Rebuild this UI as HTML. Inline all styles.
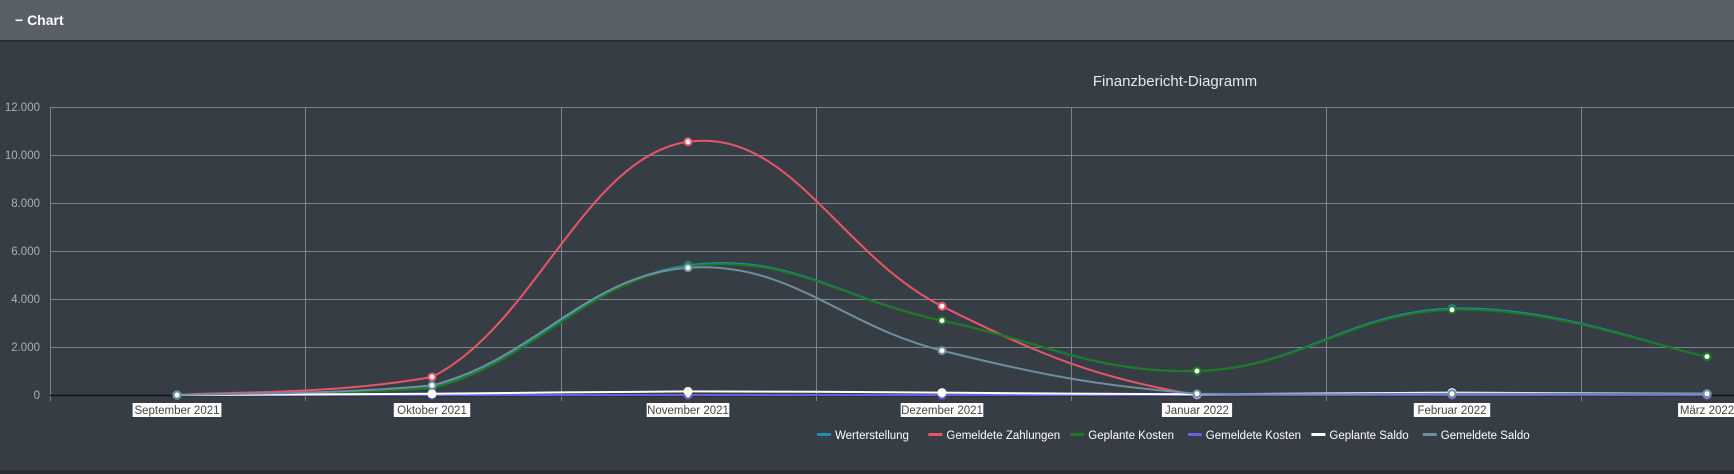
<!DOCTYPE html>
<html><head><meta charset="utf-8"><style>
html,body{margin:0;padding:0;width:1734px;height:474px;overflow:hidden;background:#373d45;font-family:"Liberation Sans",sans-serif}
#hdr{position:absolute;left:0;top:0;width:1734px;height:40px;background:#5a6068;border-bottom:2px solid #2a2e33;color:#fff;font-weight:bold;font-size:14px;line-height:40px}
#hdr span{position:absolute;left:15px}
svg{position:absolute;left:0;top:0}
</style></head><body>
<div id="hdr"><span>− Chart</span></div>
<svg id="s" width="1734" height="474" xmlns="http://www.w3.org/2000/svg" font-family="Liberation Sans, sans-serif">
<rect x="0" y="470" width="1734" height="4" fill="#2a2e33"/>
<text x="1175" y="86" fill="#e8e8e8" font-size="15" text-anchor="middle">Finanzbericht-Diagramm</text>
<g id="grid" stroke="#7d838a" stroke-width="1"></g>
<g id="lbl" font-size="11.5" fill="#aab0b6"></g>
<g id="ser"></g>
<g id="leg" font-size="11.5" fill="#ffffff"></g>
</svg>
<script>
var NS="http://www.w3.org/2000/svg";
function el(p,t,a,txt){var e=document.createElementNS(NS,t);for(var k in a)e.setAttribute(k,a[k]);if(txt!=null)e.textContent=txt;p.appendChild(e);return e;}
var g=document.getElementById('grid'),L=document.getElementById('lbl'),S=document.getElementById('ser'),G=document.getElementById('leg');
function Y(v){return 395-v*0.024;}
var xs=[177,432,688,942,1197,1452,1707];
var bounds=[50,305,561,816,1071,1326,1581];
for(var i=0;i<=6;i++){var y=Y(i*2000);el(g,'line',{x1:50,x2:1734,y1:y+.5,y2:y+.5});
el(L,'text',{x:40,y:y+4,'text-anchor':'end'},(i*2).toString()+(i? '.000':''));}
bounds.forEach(function(b){el(g,'line',{x1:b+.5,x2:b+.5,y1:107,y2:401});});
el(g,'line',{x1:50,x2:1734,y1:395.5,y2:395.5,stroke:'#111',"stroke-width":1.5});
var months=["September 2021","Oktober 2021","November 2021","Dezember 2021","Januar 2022","Februar 2022","März 2022"];
months.forEach(function(m,i){var w=m.length*6.2+2;el(L,'rect',{x:xs[i]-w/2,y:403,width:w,height:14,fill:'#fff'});
el(L,'text',{x:xs[i],y:414,'text-anchor':'middle',fill:'#444','font-size':11.5},m);});
function path(v){var p=v.map(function(d,i){return[xs[i],Y(d)]});var t=0.4,s="M"+p[0][0]+","+p[0][1];
for(var i=0;i<p.length-1;i++){var p0=p[i-1]||p[i],p1=p[i],p2=p[i+1],p3=p[i+2]||p[i+1];
var c1=[p1[0]+(p2[0]-p0[0])*t/2,p1[1]+(p2[1]-p0[1])*t/2],c2=[p2[0]-(p3[0]-p1[0])*t/2,p2[1]-(p3[1]-p1[1])*t/2];
c1[1]=Math.min(c1[1],395);c2[1]=Math.min(c2[1],395);
s+=" C"+c1+" "+c2+" "+p2;}return s;}
var series=[
{n:"Werterstellung",c:"#1a8fb0",v:[0,300,5400,3100,1000,3600,1600]},
{n:"Gemeldete Zahlungen",c:"#e8556a",v:[0,750,10550,3700,0,0,0]},
{n:"Geplante Kosten",c:"#1d7a1d",v:[0,280,5350,3100,1000,3550,1600]},
{n:"Gemeldete Kosten",c:"#6a5fe0",v:[0,0,0,0,0,0,0]},
{n:"Geplante Saldo",c:"#ffffff",v:[0,50,150,100,30,100,50]},
{n:"Gemeldete Saldo",c:"#6e8ea0",v:[0,400,5300,1850,50,50,50]}];
series.forEach(function(s){el(S,'path',{d:path(s.v),fill:'none',stroke:s.c,'stroke-width':2});});
series.forEach(function(s){s.v.forEach(function(d,i){el(S,'circle',{cx:xs[i],cy:Y(d),r:3.5,fill:'#fff',stroke:s.c,'stroke-width':2});});});
var lx=817;
series.forEach(function(s){el(G,'rect',{x:lx,y:433,width:14,height:3,fill:s.c});
el(G,'text',{x:lx+18,y:439},s.n);lx+=18+s.n.length*6.1+8;});
</script>
</body></html>
